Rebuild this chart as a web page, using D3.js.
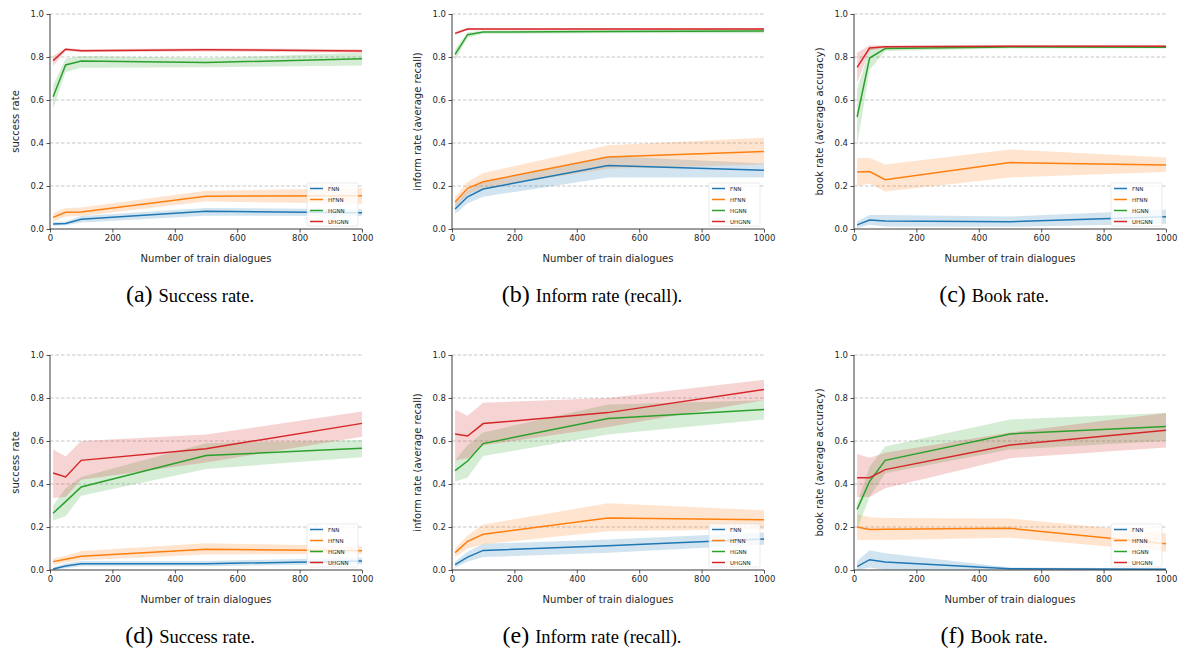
<!DOCTYPE html>
<html>
<head>
<meta charset="utf-8">
<script src="https://cdn.jsdelivr.net/npm/d3@7"></script>
<style>
  body { margin: 0; background: #fff; }
  svg { display: block; }
</style>
</head>
<body>
<svg id="drawing_region"></svg>
<script>
// training set sizes (x axis)
const trainSizes = [10, 50, 100, 500, 1000];
const modelNames = ['FNN', 'HFNN', 'HGNN', 'UHGNN'];
const modelColors = ['#1f77b4', '#ff7f0e', '#2ca02c', '#d62728'];
const yTicks = [0.0, 0.2, 0.4, 0.6, 0.8, 1.0];
const xTicks = [0, 200, 400, 600, 800, 1000];

// (a) success rate, row 1 -- one row per model: FNN, HFNN, HGNN, UHGNN
const aMean = [[0.023, 0.026, 0.045, 0.082, 0.076], [0.054, 0.078, 0.079, 0.152, 0.155], [0.615, 0.763, 0.781, 0.774, 0.792], [0.783, 0.836, 0.829, 0.834, 0.828]];
const aLow  = [[0.015, 0.018, 0.030, 0.062, 0.060], [0.035, 0.058, 0.060, 0.128, 0.118], [0.560, 0.730, 0.750, 0.752, 0.760], [0.758, 0.828, 0.822, 0.826, 0.820]];
const aHigh = [[0.032, 0.035, 0.060, 0.098, 0.092], [0.075, 0.098, 0.100, 0.178, 0.190], [0.670, 0.792, 0.805, 0.795, 0.820], [0.805, 0.842, 0.836, 0.841, 0.836]];

// (b) inform rate (recall)
const bMean = [[0.093, 0.150, 0.186, 0.295, 0.273], [0.126, 0.189, 0.220, 0.335, 0.361], [0.812, 0.904, 0.916, 0.919, 0.921], [0.910, 0.930, 0.930, 0.930, 0.930]];
const bLow  = [[0.070, 0.120, 0.150, 0.240, 0.240], [0.100, 0.160, 0.190, 0.280, 0.300], [0.785, 0.890, 0.908, 0.910, 0.910], [0.902, 0.924, 0.925, 0.925, 0.925]];
const bHigh = [[0.120, 0.180, 0.220, 0.340, 0.305], [0.150, 0.220, 0.260, 0.390, 0.425], [0.835, 0.915, 0.922, 0.928, 0.930], [0.918, 0.936, 0.935, 0.935, 0.935]];

// (c) book rate
const cMean = [[0.019, 0.042, 0.037, 0.034, 0.057], [0.265, 0.267, 0.229, 0.309, 0.298], [0.521, 0.795, 0.839, 0.847, 0.845], [0.752, 0.842, 0.848, 0.850, 0.850]];
const cLow  = [[0.005, 0.020, 0.012, 0.010, 0.025], [0.200, 0.210, 0.175, 0.240, 0.265], [0.390, 0.740, 0.828, 0.840, 0.840], [0.680, 0.830, 0.842, 0.845, 0.845]];
const cHigh = [[0.035, 0.065, 0.065, 0.058, 0.090], [0.330, 0.330, 0.300, 0.370, 0.332], [0.650, 0.840, 0.850, 0.855, 0.852], [0.820, 0.855, 0.854, 0.855, 0.855]];

// (d) success rate, row 2
const dMean = [[0.005, 0.019, 0.029, 0.029, 0.042], [0.039, 0.050, 0.064, 0.096, 0.090], [0.264, 0.318, 0.386, 0.533, 0.566], [0.451, 0.433, 0.510, 0.564, 0.682]];
const dLow  = [[0.000, 0.008, 0.018, 0.018, 0.028], [0.025, 0.035, 0.045, 0.072, 0.075], [0.230, 0.250, 0.345, 0.470, 0.525], [0.335, 0.340, 0.420, 0.500, 0.620]];
const dHigh = [[0.012, 0.030, 0.042, 0.042, 0.058], [0.055, 0.065, 0.088, 0.125, 0.110], [0.300, 0.380, 0.432, 0.590, 0.605], [0.560, 0.528, 0.600, 0.630, 0.737]];

// (e) inform rate (recall), row 2
const eMean = [[0.025, 0.060, 0.091, 0.113, 0.144], [0.081, 0.133, 0.166, 0.242, 0.234], [0.462, 0.507, 0.588, 0.705, 0.746], [0.633, 0.623, 0.681, 0.732, 0.840]];
const eLow  = [[0.010, 0.040, 0.060, 0.080, 0.118], [0.060, 0.100, 0.120, 0.180, 0.190], [0.410, 0.430, 0.530, 0.630, 0.700], [0.510, 0.520, 0.580, 0.665, 0.790]];
const eHigh = [[0.040, 0.085, 0.122, 0.142, 0.175], [0.100, 0.160, 0.212, 0.310, 0.278], [0.510, 0.580, 0.640, 0.770, 0.790], [0.745, 0.718, 0.778, 0.800, 0.885]];

// (f) book rate, row 2
const fMean = [[0.016, 0.048, 0.037, 0.006, 0.003], [0.200, 0.188, 0.189, 0.194, 0.122], [0.282, 0.412, 0.510, 0.633, 0.667], [0.429, 0.429, 0.467, 0.581, 0.650]];
const fLow  = [[0.000, 0.012, 0.000, 0.000, 0.000], [0.140, 0.140, 0.140, 0.150, 0.085], [0.190, 0.340, 0.450, 0.560, 0.600], [0.340, 0.340, 0.380, 0.520, 0.570]];
const fHigh = [[0.042, 0.092, 0.078, 0.012, 0.008], [0.260, 0.245, 0.242, 0.240, 0.170], [0.310, 0.480, 0.575, 0.700, 0.730], [0.540, 0.522, 0.545, 0.640, 0.730]];

const panels = [
  { mean: aMean, low: aLow, high: aHigh, ylabel: 'success rate', caption: 'Success rate.', tag: '(a)', left: 50, top: 14, capX: 190 },
  { mean: bMean, low: bLow, high: bHigh, ylabel: 'inform rate (average recall)', caption: 'Inform rate (recall).', tag: '(b)', left: 452, top: 14, capX: 592 },
  { mean: cMean, low: cLow, high: cHigh, ylabel: 'book rate (average accuracy)', caption: 'Book rate.', tag: '(c)', left: 854, top: 14, capX: 994 },
  { mean: dMean, low: dLow, high: dHigh, ylabel: 'success rate', caption: 'Success rate.', tag: '(d)', left: 50, top: 355, capX: 190 },
  { mean: eMean, low: eLow, high: eHigh, ylabel: 'inform rate (average recall)', caption: 'Inform rate (recall).', tag: '(e)', left: 452, top: 355, capX: 592 },
  { mean: fMean, low: fLow, high: fHigh, ylabel: 'book rate (average accuracy)', caption: 'Book rate.', tag: '(f)', left: 854, top: 355, capX: 994 }
];

const W = 1180, H = 650;
const plotW = 312, plotH = 215;
const tickFont = 'DejaVu Sans, sans-serif';

const svg = d3.select('#drawing_region')
  .attr('width', W)
  .attr('height', H)
  .style('font-family', tickFont);

panels.forEach(p => {
  const g = svg.append('g').attr('transform', `translate(${p.left}, ${p.top})`);

  const xscale = d3.scaleLinear().domain([0, 1000]).range([0, plotW]);
  const yscale = d3.scaleLinear().domain([0, 1]).range([plotH, 0]);

  // dashed grid
  g.append('g').selectAll('line')
    .data(yTicks.filter(t => t > 0))
    .enter()
    .append('line')
    .attr('x1', 0).attr('x2', plotW)
    .attr('y1', d => yscale(d)).attr('y2', d => yscale(d))
    .attr('stroke', '#b8b8b8')
    .attr('stroke-width', 0.8)
    .attr('stroke-dasharray', '3.5,2');

  const area = d3.area()
    .x((d, i) => xscale(trainSizes[i]))
    .y0(d => yscale(d[0]))
    .y1(d => yscale(d[1]));

  const line = d3.line()
    .x((d, i) => xscale(trainSizes[i]))
    .y(d => yscale(d));

  modelNames.forEach((name, k) => {
    const band = p.low[k].map((lo, i) => [lo, p.high[k][i]]);
    g.append('path')
      .attr('d', area(band))
      .attr('fill', modelColors[k])
      .attr('fill-opacity', 0.2)
      .attr('stroke', 'none');
  });
  modelNames.forEach((name, k) => {
    g.append('path')
      .attr('d', line(p.mean[k]))
      .attr('fill', 'none')
      .attr('stroke', modelColors[k])
      .attr('stroke-width', 1.5);
  });

  // axes
  const xaxis = d3.axisBottom(xscale).tickValues(xTicks).tickSize(3.5).tickPadding(2.5).tickFormat(d3.format('d'));
  const yaxis = d3.axisLeft(yscale).tickValues(yTicks).tickSize(3.5).tickPadding(2.5).tickFormat(d3.format('.1f'));

  const xg = g.append('g').attr('transform', `translate(0, ${plotH})`).call(xaxis);
  const yg = g.append('g').call(yaxis);
  [xg, yg].forEach(a => {
    a.select('.domain').attr('stroke', '#262626').attr('stroke-width', 0.9);
    a.selectAll('.tick line').attr('stroke', '#262626').attr('stroke-width', 0.8);
    a.selectAll('.tick text').attr('fill', '#262626').style('font-size', '8.5px').style('font-family', tickFont);
  });
  xg.select('.domain').attr('d', `M0,0H${plotW}`);
  yg.select('.domain').attr('d', `M0,0V${plotH}`);

  g.append('text')
    .attr('x', plotW / 2)
    .attr('y', plotH + 33)
    .attr('text-anchor', 'middle')
    .attr('fill', '#262626')
    .style('font-size', '10px')
    .text('Number of train dialogues');

  g.append('text')
    .attr('transform', `translate(-31, ${plotH / 2}) rotate(-90)`)
    .attr('text-anchor', 'middle')
    .attr('fill', '#262626')
    .style('font-size', '10px')
    .text(p.ylabel);

  // legend
  const lg = g.append('g').attr('transform', `translate(${plotW - 55}, ${plotH - 46})`);
  lg.append('rect')
    .attr('width', 51).attr('height', 43)
    .attr('rx', 1.5)
    .attr('fill', '#fff').attr('fill-opacity', 0.8)
    .attr('stroke', '#dcdcdc').attr('stroke-width', 0.6);
  modelNames.forEach((name, k) => {
    const yy = 5.5 + k * 11;
    lg.append('line')
      .attr('x1', 3).attr('x2', 16)
      .attr('y1', yy).attr('y2', yy)
      .attr('stroke', modelColors[k])
      .attr('stroke-width', 1.5);
    lg.append('text')
      .attr('x', 21).attr('y', yy + 2)
      .attr('fill', '#262626')
      .style('font-size', '5.5px')
      .text(name);
  });

  // caption under the subfigure (label set a bit larger than the text)
  const cap = svg.append('text')
    .attr('x', p.capX)
    .attr('y', p.top + 288)
    .attr('text-anchor', 'middle')
    .style('font-family', 'Liberation Serif, Times New Roman, serif')
    .attr('fill', '#000');
  cap.append('tspan').style('font-size', '24px').text(`${p.tag} `);
  cap.append('tspan').style('font-size', '18.5px').text(p.caption);
});
</script>
</body>
</html>
